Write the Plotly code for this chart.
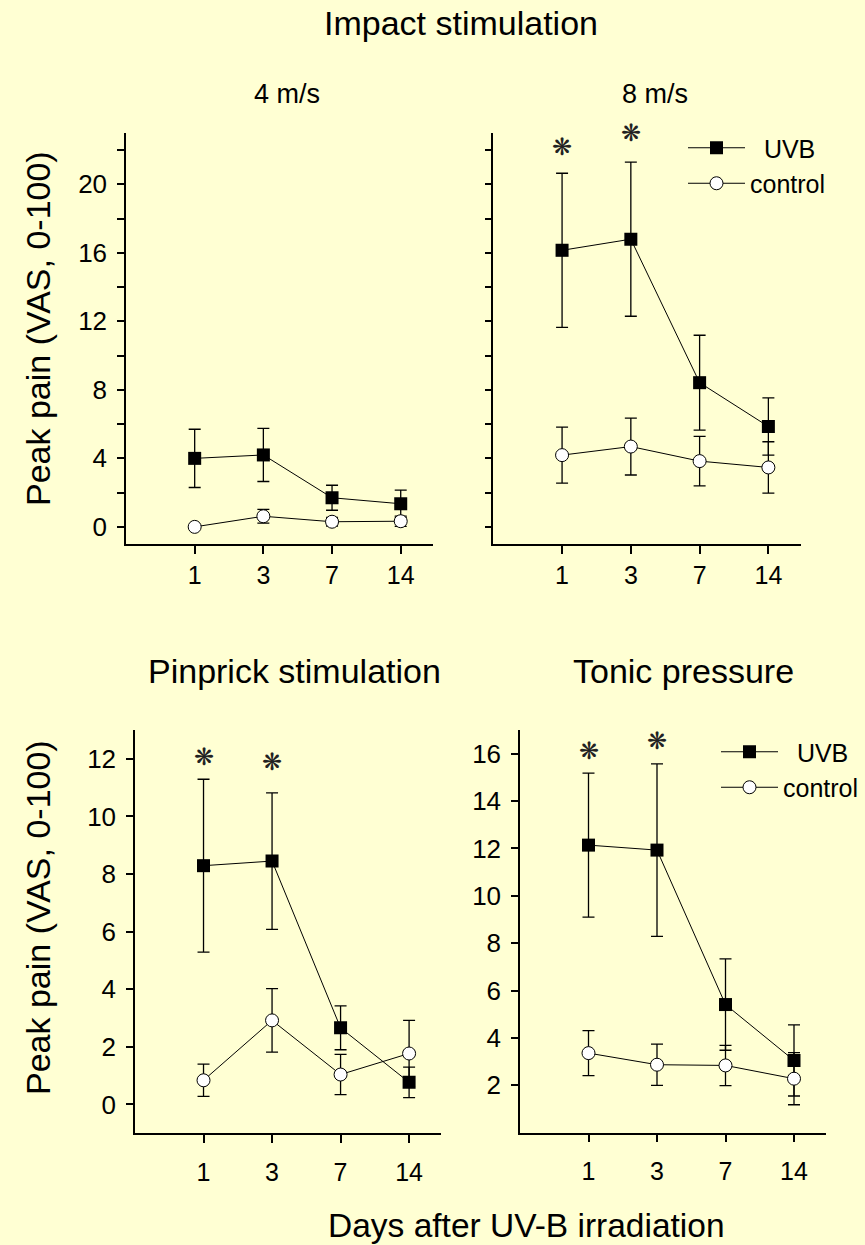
import plotly.graph_objects as go

# ---------------- data ----------------
days = ["1", "3", "7", "14"]

imp4_uvb = [4.0, 4.2, 1.7, 1.35]
imp4_uvb_err = [1.7, 1.55, 0.73, 0.8]
imp4_ctl = [0.0, 0.62, 0.3, 0.33]
imp4_ctl_err = [0.0, 0.4, 0.25, 0.3]

imp8_uvb = [16.15, 16.8, 8.42, 5.86]
imp8_uvb_err = [4.5, 4.5, 2.77, 1.67]
imp8_ctl = [4.19, 4.69, 3.84, 3.47]
imp8_ctl_err = [1.63, 1.66, 1.44, 1.5]

pin_uvb = [8.29, 8.45, 2.66, 0.77]
pin_uvb_err = [3.0, 2.37, 0.76, 0.53]
pin_ctl = [0.84, 2.92, 1.04, 1.77]
pin_ctl_err = [0.56, 1.1, 0.7, 1.15]

ton_uvb = [12.14, 11.93, 5.41, 3.05]
ton_uvb_err = [3.04, 3.64, 1.93, 1.5]
ton_ctl = [3.36, 2.87, 2.84, 2.28]
ton_ctl_err = [0.95, 0.87, 0.85, 1.1]

# significance markers (y position of asterisk, None = not significant)
imp4_sig = [None, None, None, None]
imp8_sig = [22.2, 23.0, None, None]
pin_sig = [12.08, 11.9, None, None]
ton_sig = [16.1, 16.55, None, None]

# ---------------- styling ----------------
W, H = 865, 1245
BG = "#FFFFD3"
FONT = "Liberation Sans, Arial, sans-serif"


def px(x):
    return x / W


def py(y):
    return 1 - y / H


panels = [
    dict(u=imp4_uvb, ue=imp4_uvb_err, c=imp4_ctl, ce=imp4_ctl_err, s=imp4_sig,
         xd=(126, 433), yd=(133, 544), yr=[-1, 23],
         tv=list(range(0, 23, 2)), tt=[str(v) if v % 4 == 0 and v <= 20 else "" for v in range(0, 23, 2)],
         showlab=True, leg=None, xso=0),
    dict(u=imp8_uvb, ue=imp8_uvb_err, c=imp8_ctl, ce=imp8_ctl_err, s=imp8_sig,
         xd=(493.3, 800.7), yd=(133, 544), yr=[-1, 23],
         tv=list(range(0, 23, 2)), tt=["" for v in range(0, 23, 2)],
         showlab=False, leg="legend", xso=0),
    dict(u=pin_uvb, ue=pin_uvb_err, c=pin_ctl, ce=pin_ctl_err, s=pin_sig,
         xd=(135, 441.3), yd=(730, 1133.3), yr=[-1, 13],
         tv=list(range(0, 13, 2)), tt=[str(v) for v in range(0, 13, 2)],
         showlab=True, leg=None, xso=8),
    dict(u=ton_uvb, ue=ton_uvb_err, c=ton_ctl, ce=ton_ctl_err, s=ton_sig,
         xd=(520, 826.2), yd=(730, 1132.7), yr=[0, 17],
         tv=list(range(2, 17, 2)), tt=[str(v) for v in range(2, 17, 2)],
         showlab=True, leg="legend2", xso=8),
]

fig = go.Figure()
layout = {}
annotations = []

for i, p in enumerate(panels, start=1):
    xa = "x" if i == 1 else f"x{i}"
    ya = "y" if i == 1 else f"y{i}"
    xkey = "xaxis" if i == 1 else f"xaxis{i}"
    ykey = "yaxis" if i == 1 else f"yaxis{i}"
    show_leg = p["leg"] is not None
    legname = p["leg"] if show_leg else "legend"

    fig.add_trace(go.Scatter(
        x=days, y=p["u"], xaxis=xa, yaxis=ya, mode="lines+markers",
        name="\u00a0\u00a0UVB", legend=legname, showlegend=show_leg,
        line=dict(color="black", width=1),
        marker=dict(symbol="square", size=13, color="black", line=dict(color="black", width=0)),
        error_y=dict(type="data", array=p["ue"], visible=True, color="black", thickness=1.3, width=6),
    ))
    fig.add_trace(go.Scatter(
        x=days, y=p["c"], xaxis=xa, yaxis=ya, mode="lines+markers",
        name="control", legend=legname, showlegend=show_leg,
        line=dict(color="black", width=1),
        marker=dict(symbol="circle", size=13, color="white", line=dict(color="black", width=1)),
        error_y=dict(type="data", array=p["ce"], visible=True, color="black", thickness=1.3, width=6),
    ))

    layout[xkey] = dict(
        domain=[px(p["xd"][0]), px(p["xd"][1])], anchor=ya, type="category",
        range=[-1, 3.47], showline=True, linecolor="black", linewidth=1.5,
        ticks="outside", ticklen=8, tickwidth=1.5, tickcolor="black",
        showgrid=False, zeroline=False,
        tickfont=dict(family=FONT, size=25, color="black"), ticklabelstandoff=p["xso"],
    )
    layout[ykey] = dict(
        domain=[py(p["yd"][1]), py(p["yd"][0])], anchor=xa,
        range=p["yr"], showline=True, linecolor="black", linewidth=1.5,
        ticks="outside", ticklen=7, tickwidth=1.5, tickcolor="black",
        tickmode="array", tickvals=p["tv"], ticktext=p["tt"], showticklabels=p["showlab"],
        showgrid=False, zeroline=False,
        tickfont=dict(family=FONT, size=26, color="black"), ticklabelstandoff=5,
    )

    for k, sy in enumerate(p["s"]):
        if sy is not None:
            annotations.append(dict(
                x=k, y=sy, xref=xa, yref=ya, text="\u274B", showarrow=False,
                font=dict(family="DejaVu Sans", size=24, color="#222222"),
                xanchor="center", yanchor="middle"))

# titles
texts = [
    ("Impact stimulation", 461, 22.5, 34, 0),
    ("4 m/s", 287, 94, 27, 0),
    ("8 m/s", 655, 94, 27, 0),
    ("Pinprick stimulation", 294, 671, 34, 0),
    ("Tonic pressure", 683, 671, 34, 0),
    ("Days after UV-B irradiation", 526, 1225, 33.5, 0),
    ("Peak pain (VAS, 0-100)", 38, 329, 34, -90),
    ("Peak pain (VAS, 0-100)", 38, 918, 34, -90),
]
for t, x, y, s, ang in texts:
    annotations.append(dict(
        x=px(x), y=py(y), xref="paper", yref="paper", text=t, showarrow=False,
        textangle=ang, font=dict(family=FONT, size=s, color="black"),
        xanchor="center", yanchor="middle"))

fig.update_layout(
    **layout,
    width=W, height=H, autosize=False,
    margin=dict(l=0, r=0, t=0, b=0),
    paper_bgcolor=BG, plot_bgcolor=BG,
    annotations=annotations,
    legend=dict(x=px(683), y=py(125), xanchor="left", yanchor="top",
                bgcolor="rgba(0,0,0,0)", font=dict(family=FONT, size=25, color="black"),
                itemwidth=57, tracegroupgap=0),
    legend2=dict(x=px(716), y=py(729), xanchor="left", yanchor="top",
                 bgcolor="rgba(0,0,0,0)", font=dict(family=FONT, size=25, color="black"),
                 itemwidth=57, tracegroupgap=0),
)

fig.write_html("out.html", config={"displayModeBar": False},
               post_script="document.body.style.margin='0';document.body.style.overflow='hidden';")
